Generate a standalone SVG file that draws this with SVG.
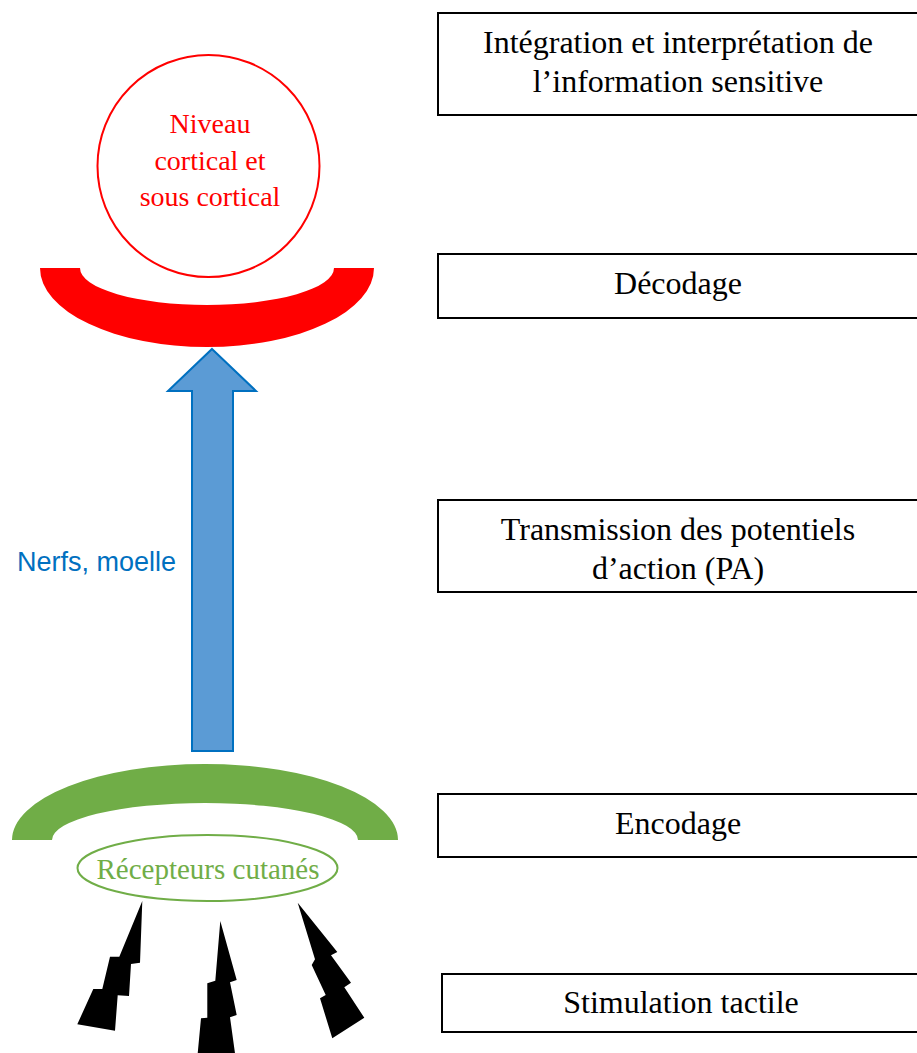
<svg xmlns="http://www.w3.org/2000/svg" width="917" height="1053" viewBox="0 0 917 1053">
<style>
.box{fill:#fff;stroke:#000;stroke-width:2}
.bt{font-family:"Liberation Serif","Times New Roman",serif;font-size:32px;fill:#000;text-anchor:middle}
.red{font-family:"Liberation Serif","Times New Roman",serif;font-size:28px;fill:#FF0000;text-anchor:middle}
.grn{font-family:"Liberation Serif","Times New Roman",serif;font-size:29px;fill:#70AD47;text-anchor:middle}
.blue{font-family:"Liberation Sans",Arial,sans-serif;font-size:27px;fill:#0070C0}
.bolt{fill:#000}
</style>
<rect width="917" height="1053" fill="#fff"/>
<g id="cortex">
<circle cx="208.5" cy="166" r="111" fill="none" stroke="#FF0000" stroke-width="2"/>
<text class="red" x="210" y="133">Niveau</text>
<text class="red" x="210" y="170">cortical et</text>
<text class="red" x="210" y="206">sous cortical</text>
</g>
<g id="decodeArc">
<path d="M40,268 A167,79 0 0 0 374,268 L334,268 A127,37 0 0 1 80,268 Z" fill="#FF0000"/>
</g>
<g id="connectors">
<path d="M212,349 L256,391 L233,391 L233,751 L192,751 L192,391 L168,391 Z" fill="#5B9BD5" stroke="#0070C0" stroke-width="2" stroke-linejoin="miter"/>
<text class="blue" x="17" y="571">Nerfs, moelle</text>
</g>
<g id="encodeArc">
<path d="M12,840 A193,76 0 0 1 398,840 L358,840 A153,37 0 0 0 52,840 Z" fill="#70AD47"/>
</g>
<g id="receptors">
<ellipse cx="207.5" cy="868" rx="130" ry="33" fill="none" stroke="#70AD47" stroke-width="2"/>
<text class="grn" x="208" y="879">Récepteurs cutanés</text>
</g>
<g id="bolts">
<polygon class="bolt" points="142.3,901 140,962.7 131,964 129,996 117.7,995.3 115,1030.7 77.3,1024.3 93.3,989 102.3,989 110,956.7 119.3,956.7"/>
<polygon class="bolt" points="220.3,921 236.7,980 230,982.3 236.7,1015 230,1017.3 235,1053.3 197.7,1053.3 201,1018.3 207.3,1017.7 207.3,983.3 215.3,980.7"/>
<polygon class="bolt" points="297.7,902.7 315,959.3 311.7,965 325.7,995 320,998.3 332.3,1038.3 364.3,1017.7 344.3,987.3 351,982.7 331,955.3 337.3,952"/>
</g>
<g id="box-integration">
<rect class="box" x="438" y="13" width="490" height="102"/>
<text class="bt" x="678" y="53">Intégration et interprétation de</text>
<text class="bt" x="678" y="92">l’information sensitive</text>
</g>
<g id="box-decodage">
<rect class="box" x="438" y="254" width="490" height="64"/>
<text class="bt" x="678" y="294">Décodage</text>
</g>
<g id="box-transmission">
<rect class="box" x="438" y="500" width="490" height="92"/>
<text class="bt" x="678" y="540">Transmission des potentiels</text>
<text class="bt" x="678" y="579">d’action (PA)</text>
</g>
<g id="box-encodage">
<rect class="box" x="438" y="794" width="490" height="63"/>
<text class="bt" x="678" y="834">Encodage</text>
</g>
<g id="box-stimulation">
<rect class="box" x="442" y="974" width="490" height="58"/>
<text class="bt" x="681" y="1013">Stimulation tactile</text>
</g>
</svg>
